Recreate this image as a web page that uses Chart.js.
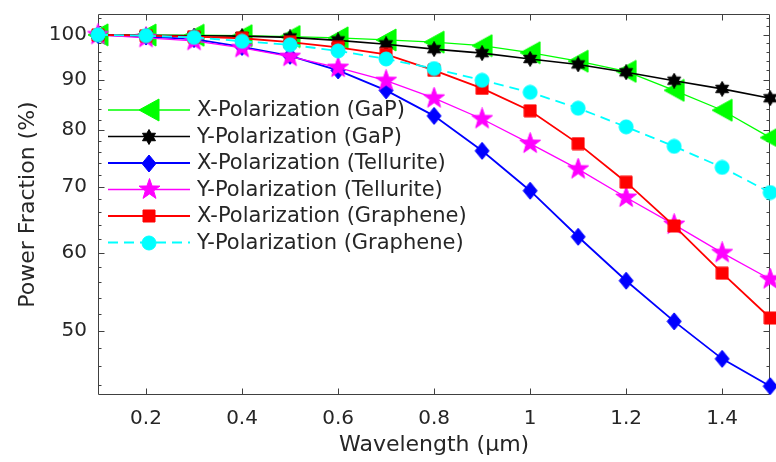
<!DOCTYPE html>
<html>
<head>
<meta charset="utf-8">
<script src="https://cdn.jsdelivr.net/npm/chart.js@4.4.1/dist/chart.umd.min.js"></script>
<style>
  html, body { margin: 0; padding: 0; background: #fff; overflow: hidden; }
  #wrap { width: 776px; height: 462px; overflow: hidden; }
</style>
</head>
<body>
<div id="wrap"><canvas id="myChart" width="780" height="462"></canvas></div>
<script>
// wavelength in um
var wavelength = [0.1, 0.2, 0.3, 0.4, 0.5, 0.6, 0.7, 0.8, 0.9, 1.0, 1.1, 1.2, 1.3, 1.4, 1.5];
// power fraction (%)
var xGaP       = [100, 99.95, 99.9, 99.8, 99.6, 99.3, 98.8, 98.3, 97.5, 95.9, 94.0, 91.8, 87.8, 83.8, 78.6];
var yGaP       = [100, 99.9, 99.8, 99.7, 99.4, 98.7, 97.8, 96.7, 95.8, 94.5, 93.3, 91.6, 89.8, 88.1, 86.2];
var xTellurite = [100, 99.6, 99.0, 97.2, 95.2, 92.0, 87.8, 82.7, 76.2, 69.4, 62.3, 56.2, 51.1, 46.8, 43.9];
var yTellurite = [100, 99.3, 98.6, 97.0, 95.0, 92.6, 89.8, 86.2, 82.1, 77.5, 73.0, 68.3, 64.1, 60.0, 56.4];
var xGraphene  = [100, 99.8, 99.6, 99.2, 98.3, 97.1, 95.5, 92.0, 88.2, 83.7, 77.5, 70.8, 63.9, 57.2, 51.5];
var yGraphene  = [100, 99.8, 99.4, 98.5, 97.7, 96.3, 94.5, 92.4, 89.9, 87.4, 84.2, 80.6, 77.0, 73.3, 69.1];

var xTicks = [0.2, 0.4, 0.6, 0.8, 1, 1.2, 1.4];
var yTicks = [50, 60, 70, 80, 90, 100];
var yMinorTicks = [44, 46, 48, 52, 54, 56, 58, 62, 64, 66, 68, 72, 74, 76, 78, 82, 84, 86, 88, 92, 94, 96, 98, 102, 104];

var textColor = '#262626';
var axisColor = '#404040';
var yTitle = 'Power Fraction (%)';
Chart.defaults.font.family = '"DejaVu Sans", sans-serif';
Chart.defaults.color = textColor;

// small canvases used as marker images
function marker(w, h, color, pathFn) {
  var c = document.createElement('canvas');
  c.width = w; c.height = h;
  var g = c.getContext('2d');
  g.fillStyle = color; g.strokeStyle = color; g.lineWidth = 1;
  g.beginPath();
  pathFn(g, w, h);
  g.closePath();
  g.fill(); g.stroke();
  return c;
}
function starPath(n, rOut, rIn) {
  return function(g, w, h) {
    for (var i = 0; i < n * 2; i++) {
      var r = i % 2 ? rIn : rOut;
      var a = -Math.PI / 2 + i * Math.PI / n;
      var px = w / 2 + r * Math.cos(a), py = h / 2 + r * Math.sin(a);
      if (i == 0) g.moveTo(px, py); else g.lineTo(px, py);
    }
  };
}
var triLeft = marker(22, 24, '#00ff00', function(g, w, h) {
  g.moveTo(1, h / 2); g.lineTo(w - 1, 1); g.lineTo(w - 1, h - 1);
});
var hexagram = marker(16, 16, '#000000', starPath(6, 7.5, 4.3));
var diamond = marker(16, 19, '#0000ff', function(g, w, h) {
  g.moveTo(w / 2, 1); g.lineTo(w - 1, h / 2); g.lineTo(w / 2, h - 1); g.lineTo(1, h / 2);
});
var pentagram = marker(23, 23, '#ff00ff', starPath(5, 11, 4.4));
var square = marker(14, 14, '#ff0000', function(g, w, h) {
  g.rect(1, 1, w - 2, h - 2);
});
var circle = marker(16, 16, '#00ffff', function(g, w, h) {
  g.arc(w / 2, h / 2, 7, 0, Math.PI * 2);
});

function pts(values) {
  return wavelength.map(function(w, i) { return { x: w, y: values[i] }; });
}

function series(label, values, color, width, style, order, dash) {
  return {
    label: label,
    data: pts(values),
    borderColor: color,
    backgroundColor: color,
    borderWidth: width,
    borderDash: dash || [],
    pointStyle: style,
    pointRadius: 8,
    pointHoverRadius: 8,
    tension: 0,
    clip: false,
    order: order
  };
}

// axes box with inward ticks, MATLAB style
var boxPlugin = {
  id: 'box',
  beforeDatasetsDraw: function(chart) {
    var ctx = chart.ctx, a = chart.chartArea;
    var xs = chart.scales.x, ys = chart.scales.y;
    var L = Math.round(a.left) + 0.5, R = Math.round(a.right) - 0.5;
    var T = Math.round(a.top) + 0.5, B = Math.round(a.bottom) - 0.5;
    ctx.save();
    ctx.strokeStyle = axisColor;
    ctx.lineWidth = 1;
    ctx.beginPath();
    ctx.rect(L, T, R - L, B - T);
    xTicks.forEach(function(v) {
      var px = Math.round(xs.getPixelForValue(v)) + 0.5;
      ctx.moveTo(px, B); ctx.lineTo(px, B - 6);
      ctx.moveTo(px, T); ctx.lineTo(px, T + 6);
    });
    yTicks.forEach(function(v) {
      var py = Math.round(ys.getPixelForValue(v)) + 0.5;
      ctx.moveTo(L, py); ctx.lineTo(L + 6, py);
      ctx.moveTo(R, py); ctx.lineTo(R - 6, py);
    });
    yMinorTicks.forEach(function(v) {
      var py = Math.round(ys.getPixelForValue(v)) + 0.5;
      ctx.moveTo(L, py); ctx.lineTo(L + 3, py);
      ctx.moveTo(R, py); ctx.lineTo(R - 3, py);
    });
    ctx.stroke();

    // y axis title, centred on the plot height
    ctx.translate(a.left - 70, (a.top + a.bottom) / 2);
    ctx.rotate(-Math.PI / 2);
    ctx.fillStyle = textColor;
    ctx.font = '22px "DejaVu Sans", sans-serif';
    ctx.textAlign = 'center';
    ctx.textBaseline = 'middle';
    ctx.fillText(yTitle, 0, 0);
    ctx.restore();
  }
};

// legend inside the plot, line + marker + text
var legendPlugin = {
  id: 'insideLegend',
  afterDatasetsDraw: function(chart) {
    var ctx = chart.ctx, a = chart.chartArea;
    var x0 = a.left + 10, x1 = a.left + 92, xm = a.left + 51, xt = a.left + 99;
    ctx.save();
    chart.data.datasets.forEach(function(ds, i) {
      var yy = a.top + 96 + i * 26.5;
      ctx.strokeStyle = ds.borderColor;
      ctx.lineWidth = ds.borderWidth;
      ctx.setLineDash(ds.borderDash);
      ctx.beginPath(); ctx.moveTo(x0, yy); ctx.lineTo(x1, yy); ctx.stroke();
      ctx.setLineDash([]);
      var img = ds.pointStyle;
      ctx.drawImage(img, Math.round(xm - img.width / 2), Math.round(yy - img.height / 2));
      ctx.fillStyle = textColor;
      ctx.font = '21px "DejaVu Sans", sans-serif';
      ctx.textBaseline = 'middle';
      ctx.textAlign = 'left';
      ctx.fillText(ds.label, xt, yy + 1);
    });
    ctx.restore();
  }
};

var ctx = document.getElementById('myChart').getContext('2d');
var myChart = new Chart(ctx, {
  type: 'line',
  data: {
    datasets: [
      series('X-Polarization (GaP)', xGaP, '#00ff00', 1.3, triLeft, 6),
      series('Y-Polarization (GaP)', yGaP, '#000000', 1.6, hexagram, 5),
      series('X-Polarization (Tellurite)', xTellurite, '#0000ff', 1.8, diamond, 4),
      series('Y-Polarization (Tellurite)', yTellurite, '#ff00ff', 1.3, pentagram, 3),
      series('X-Polarization (Graphene)', xGraphene, '#ff0000', 1.8, square, 2),
      series('Y-Polarization (Graphene)', yGraphene, '#00ffff', 1.8, circle, 1, [10, 6])
    ]
  },
  options: {
    responsive: false,
    animation: false,
    events: [],
    layout: { padding: { left: 0, top: 14, right: 1, bottom: 0 } },
    plugins: {
      legend: { display: false },
      tooltip: { enabled: false }
    },
    scales: {
      x: {
        type: 'linear',
        min: 0.1,
        max: 1.5,
        afterBuildTicks: function(s) { s.ticks = xTicks.map(function(v) { return { value: v }; }); },
        afterFit: function(s) { s.height = 67; s.paddingLeft = 0; s.paddingRight = 0; },
        grid: { display: false, drawTicks: false },
        border: { display: false },
        ticks: {
          padding: 12,
          font: { size: 20 },
          color: textColor,
          maxRotation: 0,
          autoSkip: false,
          callback: function(v) { return String(v); }
        },
        title: {
          display: true,
          text: 'Wavelength (μm)',
          font: { size: 22 },
          color: textColor,
          padding: { top: 0, bottom: 4 }
        }
      },
      y: {
        type: 'logarithmic',
        min: 43,
        max: 105,
        afterBuildTicks: function(s) { s.ticks = yTicks.map(function(v) { return { value: v }; }); },
        afterFit: function(s) { s.width = 98; s.paddingTop = 0; s.paddingBottom = 0; },
        grid: { display: false, drawTicks: false },
        border: { display: false },
        ticks: {
          padding: 11,
          font: { size: 20 },
          color: textColor,
          autoSkip: false,
          callback: function(v) { return String(v); }
        }
      }
    }
  },
  plugins: [boxPlugin, legendPlugin]
});
</script>
</body>
</html>
